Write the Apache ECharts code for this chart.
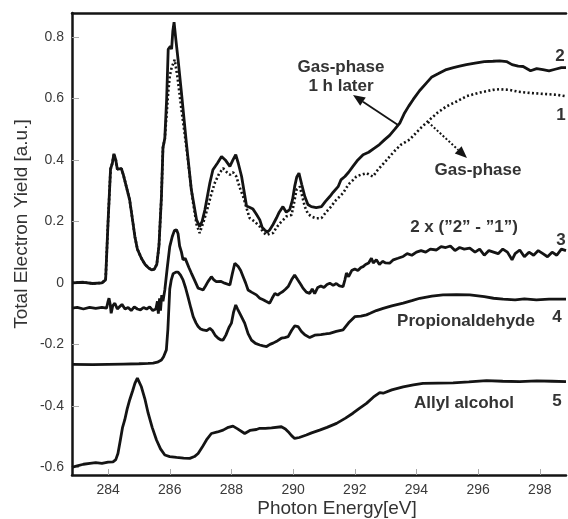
<!DOCTYPE html>
<html>
<head>
<meta charset="utf-8">
<script src="https://cdn.jsdelivr.net/npm/echarts@6/dist/echarts.min.js"></script>
<style>
  html, body { margin: 0; padding: 0; background: #fff; }
  #chart { width: 568px; height: 519px; }
</style>
</head>
<body>
<div id="chart"></div>
<script>
// tick values
const xTicks = [284, 286, 288, 290, 292, 294, 296, 298]
const yTicks = [-0.6, -0.4, -0.2, 0, 0.2, 0.4, 0.6, 0.8]

// curve 1: gas-phase (dotted)
const gasPhase = [
  [282.83, 0.0], [283.2, 0.002], [283.5, -0.002], [283.8, 0.0], [283.92, 0.01], [284.0, 0.2],
  [284.08, 0.37], [284.14, 0.39], [284.19, 0.42], [284.25, 0.4], [284.3, 0.37], [284.36, 0.365],
  [284.43, 0.372], [284.5, 0.35], [284.6, 0.31], [284.7, 0.27], [284.8, 0.2], [284.87, 0.15],
  [284.95, 0.11], [285.08, 0.08], [285.2, 0.06], [285.3, 0.05], [285.41, 0.042], [285.5, 0.045],
  [285.58, 0.06], [285.65, 0.12], [285.73, 0.28], [285.78, 0.44], [285.84, 0.47], [285.9, 0.55],
  [285.95, 0.62], [286.0, 0.672], [286.06, 0.7], [286.16, 0.726], [286.25, 0.67], [286.38, 0.563],
  [286.49, 0.48], [286.59, 0.4], [286.68, 0.32], [286.76, 0.259], [286.87, 0.19], [286.97, 0.162],
  [287.1, 0.2], [287.24, 0.248], [287.35, 0.29], [287.46, 0.325], [287.6, 0.355], [287.73, 0.373],
  [287.85, 0.36], [287.95, 0.352], [288.05, 0.36], [288.16, 0.346], [288.27, 0.31], [288.38, 0.281],
  [288.5, 0.24], [288.59, 0.211], [288.75, 0.2], [288.92, 0.183], [289.03, 0.165], [289.14, 0.156],
  [289.25, 0.16], [289.35, 0.162], [289.46, 0.18], [289.57, 0.194], [289.68, 0.205], [289.78, 0.216],
  [289.88, 0.22], [289.95, 0.221], [290.03, 0.26], [290.11, 0.303], [290.22, 0.313], [290.3, 0.28],
  [290.38, 0.248], [290.48, 0.225], [290.59, 0.216], [290.75, 0.21], [290.92, 0.211], [291.03, 0.225],
  [291.14, 0.238], [291.25, 0.25], [291.35, 0.265], [291.5, 0.28], [291.62, 0.292], [291.73, 0.31],
  [291.84, 0.325], [291.95, 0.335], [292.05, 0.346], [292.2, 0.352], [292.38, 0.357], [292.5, 0.35],
  [292.59, 0.346], [292.75, 0.368], [292.95, 0.39], [293.13, 0.411], [293.3, 0.43], [293.5, 0.45],
  [293.78, 0.466], [294.1, 0.5], [294.43, 0.531], [294.7, 0.555], [294.97, 0.574], [295.3, 0.59],
  [295.62, 0.607], [296.0, 0.618], [296.48, 0.628], [296.7, 0.63], [297.02, 0.628], [297.3, 0.622],
  [297.67, 0.618], [298.1, 0.615], [298.54, 0.612], [298.85, 0.607]
]

// curve 2: gas-phase 1 h later
const gasPhaseLater = [
  [282.83, 0.0], [283.2, 0.002], [283.5, -0.002], [283.8, 0.0], [283.92, 0.01], [284.0, 0.2],
  [284.08, 0.37], [284.14, 0.39], [284.19, 0.42], [284.25, 0.4], [284.3, 0.37], [284.36, 0.365],
  [284.43, 0.372], [284.5, 0.35], [284.6, 0.31], [284.7, 0.27], [284.8, 0.2], [284.87, 0.15],
  [284.95, 0.11], [285.08, 0.08], [285.2, 0.06], [285.3, 0.05], [285.41, 0.042], [285.5, 0.045],
  [285.58, 0.06], [285.65, 0.12], [285.73, 0.28], [285.78, 0.44], [285.84, 0.47], [285.9, 0.6],
  [285.95, 0.76], [286.02, 0.77], [286.06, 0.76], [286.1, 0.82], [286.14, 0.848], [286.2, 0.79],
  [286.27, 0.726], [286.38, 0.618], [286.54, 0.455], [286.7, 0.303], [286.87, 0.205], [286.97, 0.183],
  [287.05, 0.2], [287.14, 0.238], [287.3, 0.325], [287.4, 0.368], [287.55, 0.39], [287.68, 0.411],
  [287.8, 0.4], [287.95, 0.379], [288.05, 0.4], [288.14, 0.417], [288.22, 0.39], [288.33, 0.346],
  [288.49, 0.25], [288.6, 0.245], [288.7, 0.24], [288.8, 0.225], [288.92, 0.205], [289.0, 0.18],
  [289.08, 0.172], [289.16, 0.165], [289.24, 0.172], [289.35, 0.19], [289.46, 0.211], [289.55, 0.23],
  [289.67, 0.248], [289.78, 0.23], [289.89, 0.238], [289.98, 0.27], [290.05, 0.313], [290.12, 0.345],
  [290.19, 0.357], [290.28, 0.32], [290.38, 0.281], [290.48, 0.255], [290.59, 0.248], [290.75, 0.245],
  [290.92, 0.248], [291.05, 0.265], [291.19, 0.281], [291.3, 0.295], [291.46, 0.313], [291.55, 0.335],
  [291.68, 0.346], [291.8, 0.36], [291.94, 0.379], [292.1, 0.4], [292.27, 0.417], [292.45, 0.425],
  [292.65, 0.439], [292.8, 0.45], [292.97, 0.466], [293.13, 0.48], [293.3, 0.5], [293.46, 0.52],
  [293.6, 0.55], [293.75, 0.575], [293.89, 0.596], [294.1, 0.625], [294.32, 0.65], [294.5, 0.67],
  [294.7, 0.68], [294.97, 0.694], [295.2, 0.7], [295.4, 0.705], [295.62, 0.71], [295.9, 0.715],
  [296.2, 0.72], [296.48, 0.721], [296.7, 0.722], [296.92, 0.72], [297.1, 0.71], [297.3, 0.705],
  [297.46, 0.704], [297.7, 0.69], [297.9, 0.697], [298.1, 0.694], [298.3, 0.69], [298.5, 0.695],
  [298.7, 0.7], [298.85, 0.7]
]

// curve 3: 2 x ("2" - "1")
const difference = [
  [282.83, -0.082], [283.0, -0.08], [283.2, -0.085], [283.4, -0.08], [283.6, -0.083], [283.8, -0.08],
  [283.95, -0.082], [284.0, -0.06], [284.03, -0.05], [284.07, -0.07], [284.1, -0.099], [284.15, -0.075],
  [284.22, -0.066], [284.3, -0.085], [284.38, -0.077], [284.45, -0.07], [284.55, -0.085], [284.65, -0.08],
  [284.75, -0.09], [284.85, -0.078], [284.95, -0.085], [285.05, -0.088], [285.15, -0.08], [285.25, -0.085],
  [285.35, -0.078], [285.45, -0.09], [285.55, -0.085], [285.6, -0.06], [285.63, -0.1], [285.67, -0.05],
  [285.7, -0.09], [285.74, -0.04], [285.78, -0.06], [285.84, -0.023], [285.92, 0.05], [286.0, 0.118],
  [286.08, 0.15], [286.15, 0.17], [286.22, 0.173], [286.27, 0.16], [286.32, 0.12], [286.38, 0.1],
  [286.43, 0.075], [286.5, 0.08], [286.54, 0.07], [286.62, 0.05], [286.7, 0.032], [286.8, 0.01],
  [286.92, -0.017], [287.0, -0.02], [287.08, -0.023], [287.16, -0.01], [287.24, 0.004], [287.35, 0.02],
  [287.43, 0.01], [287.51, 0.004], [287.65, 0.005], [287.78, -0.001], [287.95, -0.007], [288.03, 0.03],
  [288.11, 0.064], [288.22, 0.053], [288.3, 0.04], [288.38, 0.02], [288.46, 0.0], [288.54, -0.023],
  [288.65, -0.03], [288.81, -0.039], [288.92, -0.05], [289.03, -0.055], [289.12, -0.06], [289.24, -0.066],
  [289.32, -0.05], [289.41, -0.034], [289.5, -0.04], [289.57, -0.034], [289.67, -0.028], [289.76, -0.02],
  [289.84, -0.012], [289.95, 0.01], [290.05, 0.026], [290.15, 0.01], [290.25, -0.005], [290.32, -0.017],
  [290.43, -0.03], [290.54, -0.034], [290.62, -0.02], [290.7, -0.035], [290.8, -0.015], [290.9, -0.01],
  [291.0, -0.015], [291.1, -0.005], [291.19, -0.001], [291.3, -0.008], [291.4, -0.002], [291.5, -0.01],
  [291.62, -0.012], [291.68, 0.01], [291.73, 0.032], [291.8, 0.02], [291.9, 0.04], [292.0, 0.045],
  [292.1, 0.04], [292.2, 0.05], [292.27, 0.053], [292.35, 0.06], [292.45, 0.065], [292.54, 0.08],
  [292.6, 0.065], [292.7, 0.075], [292.8, 0.06], [292.9, 0.07], [293.0, 0.065], [293.13, 0.064],
  [293.25, 0.075], [293.4, 0.08], [293.57, 0.086], [293.7, 0.095], [293.85, 0.09], [294.0, 0.1],
  [294.15, 0.105], [294.3, 0.1], [294.45, 0.11], [294.65, 0.107], [294.8, 0.118], [294.95, 0.115],
  [295.1, 0.12], [295.25, 0.105], [295.4, 0.115], [295.55, 0.11], [295.73, 0.113], [295.9, 0.1],
  [296.05, 0.11], [296.2, 0.09], [296.35, 0.105], [296.5, 0.1], [296.65, 0.095], [296.8, 0.11],
  [296.95, 0.1], [297.1, 0.075], [297.2, 0.095], [297.35, 0.107], [297.5, 0.085], [297.65, 0.1],
  [297.8, 0.09], [297.95, 0.105], [298.1, 0.095], [298.25, 0.085], [298.4, 0.1], [298.55, 0.09],
  [298.7, 0.11], [298.85, 0.105]
]

// curve 4: propionaldehyde
const propionaldehyde = [
  [282.83, -0.265], [283.5, -0.266], [284.0, -0.265], [284.5, -0.264], [285.0, -0.263], [285.3, -0.262],
  [285.46, -0.261], [285.6, -0.258], [285.73, -0.251], [285.8, -0.24], [285.89, -0.218], [285.94, -0.15],
  [286.0, -0.02], [286.05, 0.01], [286.11, 0.03], [286.2, 0.035], [286.27, 0.035], [286.35, 0.025],
  [286.43, 0.01], [286.51, -0.015], [286.59, -0.045], [286.68, -0.08], [286.76, -0.11], [286.85, -0.13],
  [286.92, -0.142], [287.0, -0.15], [287.08, -0.153], [287.2, -0.155], [287.3, -0.148], [287.38, -0.155],
  [287.47, -0.17], [287.57, -0.18], [287.65, -0.185], [287.73, -0.186], [287.82, -0.17], [287.92, -0.145],
  [288.0, -0.131], [288.07, -0.095], [288.14, -0.072], [288.2, -0.085], [288.3, -0.105], [288.43, -0.131],
  [288.54, -0.165], [288.65, -0.186], [288.78, -0.197], [288.92, -0.202], [289.03, -0.205], [289.14, -0.207],
  [289.25, -0.2], [289.35, -0.196], [289.5, -0.188], [289.62, -0.18], [289.73, -0.178], [289.84, -0.175],
  [289.95, -0.155], [290.05, -0.14], [290.16, -0.142], [290.27, -0.158], [290.38, -0.169], [290.54, -0.178],
  [290.7, -0.17], [290.9, -0.168], [291.05, -0.166], [291.19, -0.164], [291.4, -0.158], [291.62, -0.153],
  [291.8, -0.13], [292.0, -0.11], [292.2, -0.108], [292.38, -0.104], [292.5, -0.099], [292.7, -0.09],
  [292.92, -0.083], [293.2, -0.075], [293.57, -0.066], [293.85, -0.058], [294.11, -0.05], [294.5, -0.043],
  [294.86, -0.039], [295.3, -0.038], [295.73, -0.039], [296.2, -0.045], [296.5, -0.05], [296.81, -0.053],
  [297.2, -0.055], [297.5, -0.052], [297.89, -0.055], [298.3, -0.053], [298.85, -0.053]
]

// curve 5: allyl alcohol
const allylAlcohol = [
  [282.83, -0.6], [282.87, -0.596], [283.0, -0.595], [283.2, -0.59], [283.41, -0.587], [283.6, -0.585],
  [283.8, -0.587], [284.0, -0.583], [284.16, -0.582], [284.25, -0.575], [284.32, -0.555], [284.4, -0.51],
  [284.47, -0.47], [284.54, -0.446], [284.62, -0.41], [284.7, -0.381], [284.8, -0.35], [284.87, -0.327],
  [284.95, -0.31], [285.0, -0.315], [285.08, -0.338], [285.2, -0.38], [285.3, -0.424], [285.43, -0.47],
  [285.57, -0.511], [285.7, -0.54], [285.84, -0.56], [286.0, -0.565], [286.22, -0.568], [286.45, -0.57],
  [286.65, -0.571], [286.8, -0.565], [286.92, -0.555], [287.05, -0.535], [287.19, -0.511], [287.35, -0.49],
  [287.55, -0.485], [287.73, -0.479], [287.9, -0.47], [288.05, -0.466], [288.2, -0.475], [288.43, -0.49],
  [288.6, -0.48], [288.81, -0.477], [288.92, -0.473], [289.1, -0.473], [289.3, -0.472], [289.62, -0.468],
  [289.75, -0.475], [289.84, -0.484], [289.95, -0.497], [290.05, -0.506], [290.2, -0.503], [290.43, -0.495],
  [290.6, -0.488], [290.86, -0.479], [291.1, -0.47], [291.41, -0.457], [291.7, -0.44], [291.94, -0.424],
  [292.15, -0.408], [292.38, -0.392], [292.6, -0.372], [292.81, -0.357], [292.92, -0.359], [293.2, -0.348],
  [293.57, -0.338], [293.9, -0.332], [294.21, -0.327], [294.7, -0.326], [295.19, -0.325], [295.7, -0.322],
  [296.27, -0.318], [296.8, -0.32], [297.35, -0.321], [297.9, -0.319], [298.4, -0.32], [298.85, -0.321]
]

const xRange = [282.83, 298.85]
const yRange = [-0.625, 0.878]

const ink = '#141414'
const textColor = '#333'

function textEl(text, x, y, opts) {
  return {
    type: 'text',
    x: x,
    y: y,
    rotation: (opts && opts.rotation) || 0,
    silent: true,
    style: {
      text: text,
      fill: textColor,
      font: (opts && opts.font) || 'bold 17px "Liberation Sans", Arial, sans-serif',
      align: 'center',
      verticalAlign: 'middle',
    },
  }
}

function arrowEls(x1, y1, x2, y2, dashed) {
  const dx = x2 - x1
  const dy = y2 - y1
  const len = Math.sqrt(dx * dx + dy * dy)
  const ux = dx / len
  const uy = dy / len
  const headLen = 12
  const headW = 5
  const bx = x2 - ux * headLen
  const by = y2 - uy * headLen
  return [
    {
      type: 'line',
      silent: true,
      shape: { x1: x1, y1: y1, x2: bx, y2: by },
      style: { stroke: ink, lineWidth: dashed ? 2 : 1.8, lineDash: dashed ? [2, 2] : null },
    },
    {
      type: 'polygon',
      silent: true,
      shape: {
        points: [[x2, y2], [bx - uy * headW, by + ux * headW], [bx + uy * headW, by - ux * headW]],
      },
      style: { fill: ink },
    },
  ]
}

const chart = echarts.init(document.getElementById('chart'))

const baseLine = {
  type: 'line',
  showSymbol: false,
  symbol: 'none',
  animation: false,
  silent: true,
}

chart.setOption({
  animation: false,
  backgroundColor: '#fff',
  grid: { left: 72, right: 2, top: 13, bottom: 44 },
  xAxis: [
    {
      type: 'value',
      min: xRange[0],
      max: xRange[1],
      axisLine: { show: true, onZero: false, lineStyle: { color: ink, width: 2.5 } },
      axisTick: { show: true, inside: true, length: 6, customValues: xTicks, lineStyle: { color: '#aaa', width: 1 } },
      axisLabel: {
        customValues: xTicks,
        margin: 8,
        color: '#3a3a3a',
        fontSize: 14,
        fontFamily: '"Liberation Sans", Arial, sans-serif',
      },
      splitLine: { show: false },
    },
    {
      type: 'value',
      position: 'top',
      min: xRange[0],
      max: xRange[1],
      axisLine: { show: true, onZero: false, lineStyle: { color: ink, width: 2.5 } },
      axisTick: { show: false },
      axisLabel: { show: false },
      splitLine: { show: false },
    },
  ],
  yAxis: {
    type: 'value',
    min: yRange[0],
    max: yRange[1],
    axisLine: { show: true, onZero: false, lineStyle: { color: ink, width: 2.5 } },
    axisTick: { show: true, inside: true, length: 7, customValues: yTicks, lineStyle: { color: '#aaa', width: 1 } },
    axisLabel: {
      customValues: yTicks,
      margin: 8,
      color: '#3a3a3a',
      fontSize: 14,
      fontFamily: '"Liberation Sans", Arial, sans-serif',
    },
    splitLine: { show: false },
  },
  series: [
    { ...baseLine, name: '1', data: gasPhase, z: 2, lineStyle: { color: ink, width: 2.6, type: [2, 2.4] } },
    { ...baseLine, name: '2', data: gasPhaseLater, z: 3, lineStyle: { color: ink, width: 2.8 } },
    { ...baseLine, name: '3', data: difference, z: 3, lineStyle: { color: ink, width: 2.8 } },
    { ...baseLine, name: '4', data: propionaldehyde, z: 3, lineStyle: { color: ink, width: 2.8 } },
    { ...baseLine, name: '5', data: allylAlcohol, z: 3, lineStyle: { color: ink, width: 2.8 } },
  ],
  graphic: [
    textEl('Total Electron Yield [a.u.]', 22, 224, { rotation: Math.PI / 2, font: '19px "Liberation Sans", Arial, sans-serif' }),
    textEl('Photon Energy[eV]', 337, 509, { font: '19px "Liberation Sans", Arial, sans-serif' }),
    textEl('Gas-phase', 341, 67),
    textEl('1 h later', 341, 86),
    textEl('Gas-phase', 478, 170),
    textEl('2 x (\u201D2\u201D - \u201D1\u201D)', 464, 227),
    textEl('Propionaldehyde', 466, 321),
    textEl('Allyl alcohol', 464, 403),
    textEl('2', 560, 56),
    textEl('1', 561, 115),
    textEl('3', 561, 240),
    textEl('4', 557, 317),
    textEl('5', 557, 401),
    ...arrowEls(398, 125, 353, 95, false),
    ...arrowEls(428, 122, 467, 158, true),
  ],
})
</script>
</body>
</html>
